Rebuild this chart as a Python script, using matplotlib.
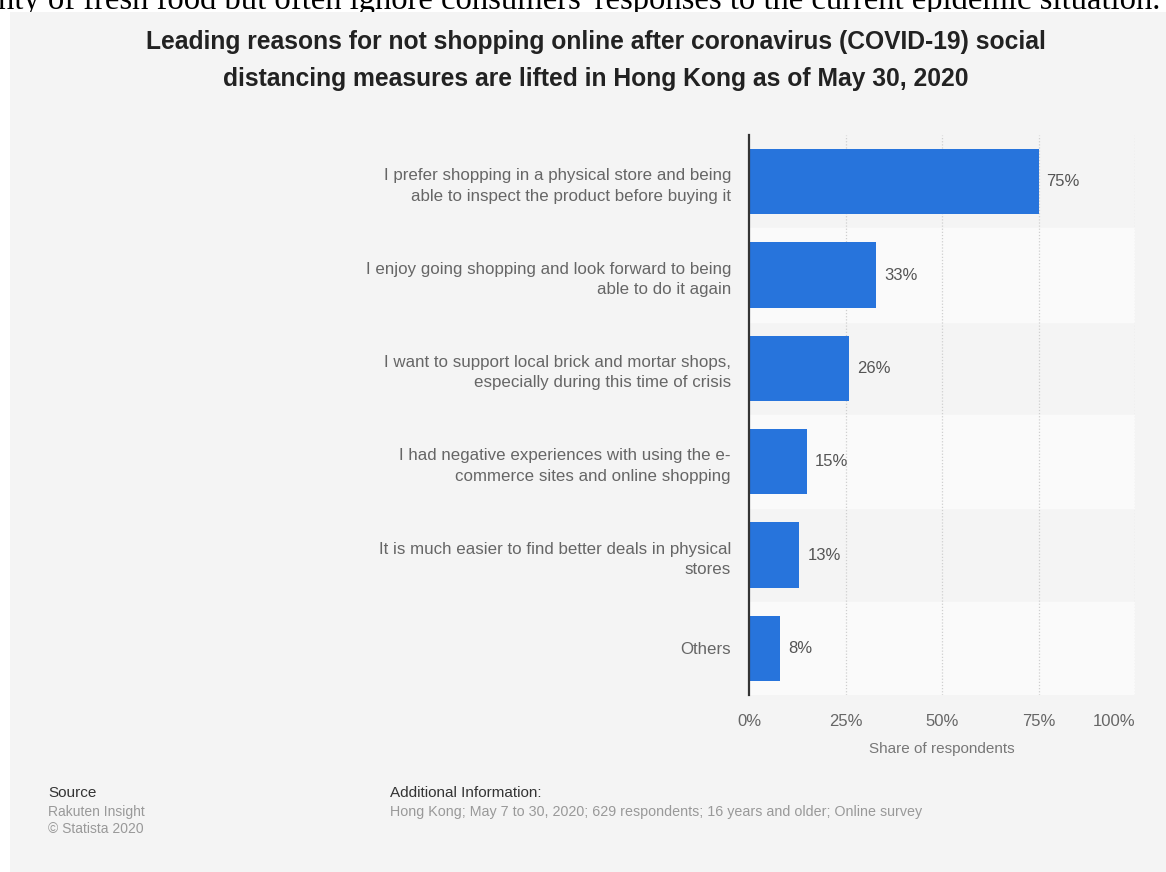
import numpy as np
import matplotlib.pyplot as plt
from matplotlib.patches import Rectangle

plt.rcParams['font.family'] = ['Liberation Sans', 'DejaVu Sans']

# données du graphique
raisons = [
    "I prefer shopping in a physical store and being\nable to inspect the product before buying it",
    "I enjoy going shopping and look forward to being\nable to do it again",
    "I want to support local brick and mortar shops,\nespecially during this time of crisis",
    "I had negative experiences with using the e-\ncommerce sites and online shopping",
    "It is much easier to find better deals in physical\nstores",
    "Others",
]
parts = [75, 33, 26, 15, 13, 8]
graduations = [0, 25, 50, 75, 100]

W, H = 1166, 872
fig = plt.figure(figsize=(W / 100, H / 100), dpi=100)
fig.patch.set_facecolor('white')

def fx(px):
    return px / W

def fy(py):
    return 1 - py / H

# ligne de texte du document, coupée par le cadre
fig.text(fx(-2), fy(9.5), "nty of fresh food but often ignore consumers' responses to the current epidemic situation.",
         family='Liberation Serif', fontsize=23.5, color='black', va='baseline', ha='left', zorder=-2)

# cadre gris de la carte
fig.patches.append(Rectangle((fx(10), 0), 1 - fx(10), fy(12.5),
                             transform=fig.transFigure, facecolor='#f4f4f4', edgecolor='none', zorder=-1))

fig.text(fx(596), fy(30), "Leading reasons for not shopping online after coronavirus (COVID-19) social\n"
         "distancing measures are lifted in Hong Kong as of May 30, 2020",
         ha='center', va='top', fontsize=17.7, fontweight='bold', color='#222222', linespacing=1.68)

ax = fig.add_axes([fx(749), fy(695), fx(1135) - fx(749), fy(135) - fy(695)])
ax.set_facecolor('#f4f4f4')

y = np.arange(len(parts))
for i in y:
    if i % 2 == 1:
        ax.axhspan(i - 0.5, i + 0.5, color='#fafafa', zorder=0)

ax.barh(y, parts, height=0.7, color='#2774dc', zorder=3)
for i, v in zip(y, parts):
    ax.text(v + 2.1, i, f"{v}%", va='center', ha='left', fontsize=12, color='#555555')

ax.set_xlim(0, 100)
ax.set_ylim(len(parts) - 0.5, -0.5)
ax.set_xticks(graduations)
ax.set_xticklabels([f"{g}%" for g in graduations])
ax.set_yticks(y)
ax.set_yticklabels(raisons, fontsize=12.2, color='#666666', linespacing=1.45)
ax.tick_params(axis='y', length=0, pad=13)
ax.tick_params(axis='x', length=0, pad=14, labelsize=12, labelcolor='#666666')
# le dernier libellé reste dans le cadre
ax.get_xticklabels()[-1].set_ha('right')

for g in graduations[1:]:
    ax.axvline(g, color='#cfcfcf', lw=0.9, ls=(0, (1, 1.5)), zorder=1)

for s in ['top', 'right', 'bottom']:
    ax.spines[s].set_visible(False)
ax.spines['left'].set_color('#333333')
ax.spines['left'].set_linewidth(1.6)
ax.spines['left'].set_zorder(4)

ax.set_xlabel("Share of respondents", fontsize=11, color='#777777', labelpad=9)

# pied de page
fig.text(fx(48), fy(793), "Source", fontsize=11, color='#333333', va='center')
fig.text(fx(48), fy(812), "Rakuten Insight", fontsize=10, color='#999999', va='center')
fig.text(fx(48), fy(829), "\u00a9 Statista 2020", fontsize=10, color='#999999', va='center')
fig.text(fx(390), fy(793), "Additional Information:", fontsize=11, color='#333333', va='center')
fig.text(fx(390), fy(812), "Hong Kong; May 7 to 30, 2020; 629 respondents; 16 years and older; Online survey",
         fontsize=10.3, color='#999999', va='center')

fig.savefig('out.png', dpi=100)
